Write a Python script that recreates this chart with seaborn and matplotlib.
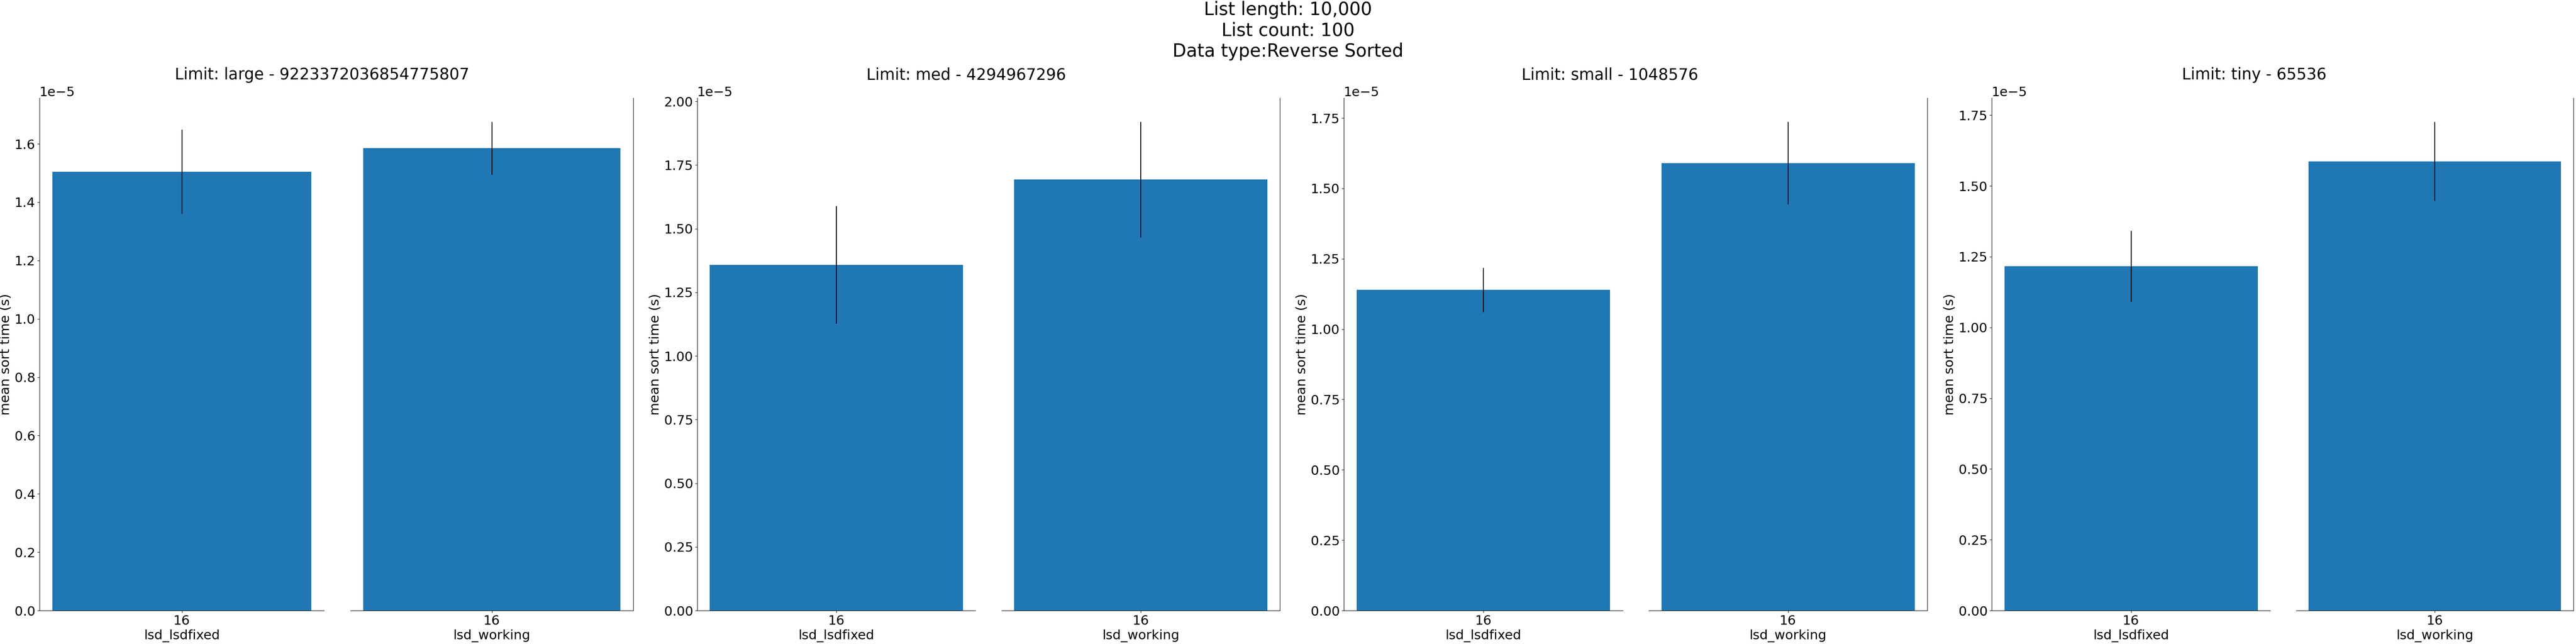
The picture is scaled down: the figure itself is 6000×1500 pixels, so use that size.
import pandas as pd
import matplotlib.pyplot as plt
import seaborn as sns

# --- data ---
limits = ["large", "med", "small", "tiny"]
limit_values = ["9223372036854775807", "4294967296", "1048576", "65536"]
algorithms = ["lsd_lsdfixed", "lsd_working"]
radix = "16"

# mean sort time (s) per limit, and half width of the error bar
mean_lsdfixed = [1.504e-5, 1.358e-5, 1.139e-5, 1.216e-5]
mean_working = [1.585e-5, 1.693e-5, 1.590e-5, 1.587e-5]
err_lsdfixed = [0.143e-5, 0.230e-5, 0.077e-5, 0.124e-5]
err_working = [0.089e-5, 0.225e-5, 0.145e-5, 0.138e-5]

suptitle = "List length: 10,000\nList count: 100\nData type:Reverse Sorted"

# build a long table: the two ends of each interval, seaborn gives mean + range
rows = []
for i, lim in enumerate(limits):
    for algo, means, errs in [("lsd_lsdfixed", mean_lsdfixed, err_lsdfixed),
                              ("lsd_working", mean_working, err_working)]:
        for sign in (-1, 1):
            rows.append({"limit": lim, "algorithm": algo, "radix": radix,
                         "time": means[i] + sign * errs[i]})
df = pd.DataFrame(rows)

plt.rcParams.update({
    "font.size": 22,
    "axes.labelsize": 22,
    "xtick.labelsize": 22,
    "ytick.labelsize": 22,
})

W, H = 6000, 1500
fig = plt.figure(figsize=(W / 100, H / 100), dpi=100)

# axes boxes in pixels (left, right) for each pair
boxes = [
    ((92, 755), (816, 1475)),
    ((1624, 2272), (2333, 2981)),
    ((3130, 3780), (3840, 4489)),
    ((4639, 5288), (5348, 5994)),
]
top_px, bottom_px = 228, 1422

for k, lim in enumerate(limits):
    axes = []
    for j, (l, r) in enumerate(boxes[k]):
        rect = [l / W, 1 - bottom_px / H, (r - l) / W, (bottom_px - top_px) / H]
        ax = fig.add_axes(rect, sharey=axes[0] if axes else None)
        axes.append(ax)
    ax1, ax2 = axes
    for ax, algo in zip(axes, algorithms):
        sub = df[(df["limit"] == lim) & (df["algorithm"] == algo)]
        sns.barplot(data=sub, x="radix", y="time", estimator="mean",
                    errorbar=("pi", 100), color="#1f77b4", saturation=1,
                    err_kws={"color": "black", "linewidth": 1.5}, ax=ax)
        ax.set_xlim(-0.44, 0.44)
        ax.set_xlabel(algo)
        ax.spines["top"].set_visible(False)
    ax1.set_ylabel("mean sort time (s)")
    ax1.spines["right"].set_visible(False)
    ax2.set_ylabel("")
    ax2.spines["left"].set_visible(False)
    ax2.tick_params(axis="y", which="both", left=False, labelleft=False)

    fig.text((k + 0.5) / 4, 1 - 185 / H, f"Limit: {lim} - {limit_values[k]}",
             ha="center", va="baseline", fontsize=26.4)

fig.suptitle(suptitle, fontsize=30, y=0.999, va="top")

fig.savefig("out.png", dpi=100)
